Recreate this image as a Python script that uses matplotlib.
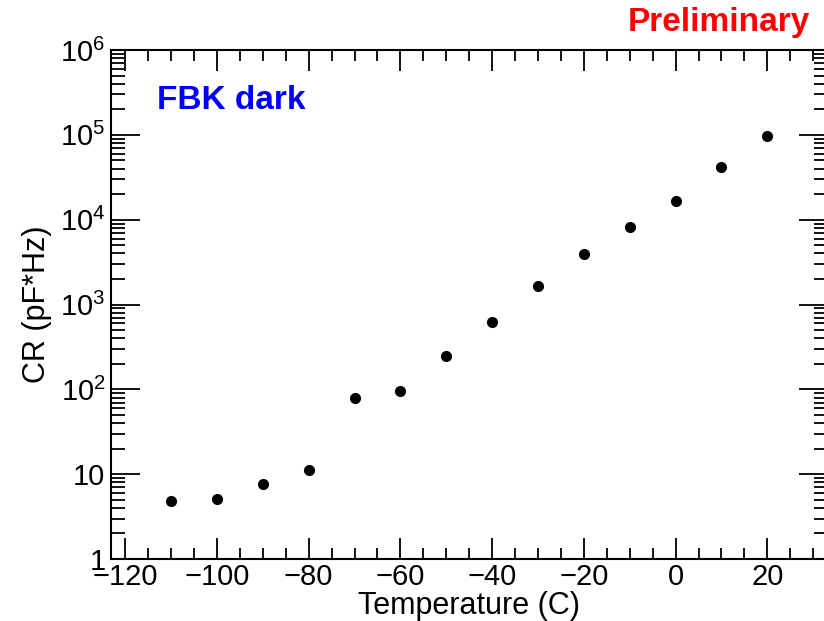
import matplotlib
matplotlib.use("Agg")
import math
import matplotlib.pyplot as plt
from matplotlib.ticker import FixedLocator, LogLocator, MultipleLocator, FuncFormatter

plt.rcParams["font.family"] = ["Liberation Sans", "DejaVu Sans"]
plt.rcParams["mathtext.fontset"] = "custom"
plt.rcParams["mathtext.rm"] = "Liberation Sans"
plt.rcParams["mathtext.it"] = "Liberation Sans:italic"

# data
temperature = [-110, -100, -90, -80, -70, -60, -50, -40, -30, -20, -10, 0, 10, 20]
count_rate = [4.8, 5.1, 7.7, 11.2, 79, 96, 247, 620, 1650, 3970, 8300, 16700, 42000, 97000]

fig = plt.figure(figsize=(8.24, 6.21), dpi=100)
# right spine sits just outside the canvas, like the reference
ax = fig.add_axes([0.1347, 0.0998, 0.870, 0.8196])

ax.plot(temperature, count_rate, "o", color="black", markersize=7)

ax.set_yscale("log")
ax.set_xlim(-123.1, 33.2)
ax.set_ylim(1, 1e6)


def ylab(v, pos):
    if v == 1:
        return "1"
    if v == 10:
        return "10"
    return "10$^{%d}$" % int(round(math.log10(v)))


ax.yaxis.set_major_locator(FixedLocator([1, 10, 100, 1e3, 1e4, 1e5, 1e6]))
ax.yaxis.set_major_formatter(FuncFormatter(ylab))
ax.yaxis.set_minor_locator(LogLocator(base=10, subs=range(2, 10), numticks=20))
ax.xaxis.set_major_locator(MultipleLocator(20))
ax.xaxis.set_minor_locator(MultipleLocator(5))
ax.xaxis.set_major_formatter(FuncFormatter(lambda v, p: "%d" % v if v >= 0 else "\u2212%d" % -v))

ax.tick_params(which="both", direction="in", top=True, right=True, width=1.3, labelsize=21)
ax.tick_params(axis="x", which="major", length=15, pad=3)
ax.tick_params(axis="x", which="minor", length=8)
ax.tick_params(axis="y", which="major", length=21, pad=4)
ax.tick_params(axis="y", which="minor", length=10)
for s in ax.spines.values():
    s.set_linewidth(1.5)

ax.set_xlabel("Temperature (C)", fontsize=22, labelpad=0)
ax.set_ylabel("CR (pF*Hz)", fontsize=22, labelpad=6)

fig.text(0.19, 0.838, "FBK dark", color="#0000ff", fontsize=24, fontweight="bold", va="center")
fig.text(0.983, 0.964, "Preliminary", color="#ff0000", fontsize=24, fontweight="bold", va="center", ha="right")

fig.savefig("out.png", dpi=100)
